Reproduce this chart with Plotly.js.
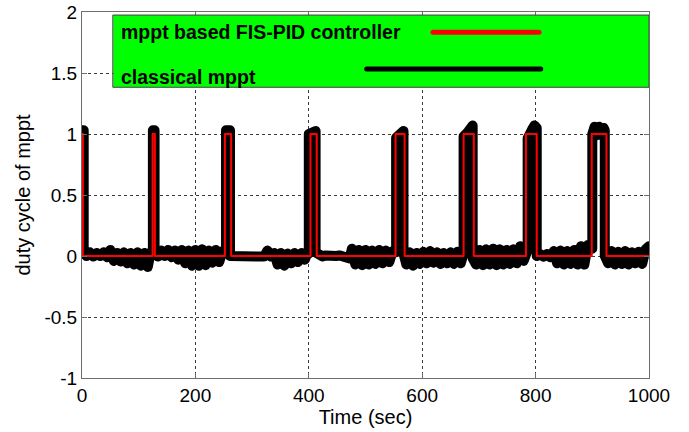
<!DOCTYPE html>
<html>
<head>
<meta charset="utf-8">
<script src="https://cdn.plot.ly/plotly-3.0.1.min.js"></script>
<style>
html,body{margin:0;padding:0;background:#fff;}
#chart{width:689px;height:432px;}
#chart path.js-line{stroke-linejoin:round !important;stroke-linecap:round !important;}
#chart .shapelayer path{stroke-linecap:round !important;}
</style>
</head>
<body>
<div id="chart"></div>
<script>
// FIS-PID controller duty cycle (step shape 'hv': switching times and levels)
const fisTime = [0, 0, 1.5, 124.5, 128.5, 252, 263, 403, 414, 553, 569, 673, 691, 783, 802, 899, 925, 1000];
const fisDuty = [0, 1, 0,   1,     0,     1,   0,   1,   0,   1,   0,   1,   0,   1,   0,   1,   0,   0];

// classical mppt duty cycle (noisy signal)
const classicalTime = [
  0, 3, 3,
  8, 14, 20, 26, 32, 38, 44, 50, 56, 62, 68, 74, 80, 86, 92, 98, 104, 110, 116, 121,
  125, 125, 128, 128,
  134, 140, 146, 152, 158, 164, 170, 176, 182, 188, 194, 200, 206, 212, 218, 224, 230, 236, 242, 248,
  254, 254, 261, 261,
  267, 273, 279, 285, 291, 297, 303, 309, 315, 321, 327, 333, 339, 345, 351, 357, 363, 369, 375, 381, 387, 393, 398,
  400, 400, 406, 412, 412,
  418, 424, 430, 436, 442, 448, 454, 460, 466, 472, 476, 482, 488, 494, 500, 506, 512, 518, 524, 530, 536, 542, 548,
  554, 554, 560, 567, 567,
  572, 578, 584, 590, 596, 602, 608, 614, 620, 626, 632, 638, 644, 650, 656, 662, 668,
  673, 673, 681, 689, 689,
  695, 701, 707, 713, 719, 725, 731, 737, 743, 749, 755, 761, 767, 773, 779,
  786, 786, 794, 798, 802, 802,
  808, 814, 820, 826, 832, 838, 844, 850, 856, 862, 868, 874, 880, 886, 892,
  900, 900, 904, 908, 912, 916, 920, 922, 922,
  928, 934, 940, 946, 952, 958, 964, 970, 976, 982, 988, 994, 1000
];
const classicalDuty = [
  1.03, 1.03, 0.025,
  0.0, 0.03, -0.005, 0.025, 0.0, 0.03, -0.01, 0.05, -0.04, 0.025, -0.045, 0.03, -0.06, 0.025, -0.07, 0.03, -0.08, 0.025, -0.09, 0.03,
  0.02, 1.03, 1.03, 0.03,
  -0.005, 0.045, 0.0, 0.05, -0.01, 0.045, -0.03, 0.05, -0.06, 0.045, -0.08, 0.05, -0.08, 0.055, -0.075, 0.045, -0.055, 0.05, -0.05, 0.04,
  0.03, 1.03, 1.03, 0.0,
  0.0, -0.005, 0.0, -0.005, 0.0, -0.008, 0.0, -0.005, 0.01, -0.005, 0.045, -0.005, 0.025, -0.07, 0.025, -0.08, 0.02, -0.06, 0.025, -0.05, 0.025, -0.03, 0.03,
  0.02, 1.0, 1.02, 1.025, 0.03,
  0.005, -0.003, 0.005, -0.003, 0.005, 0.0, 0.005, -0.003, 0.005, -0.02, 0.06, -0.07, 0.05, -0.075, 0.05, -0.07, 0.045, -0.065, 0.05, -0.06, 0.045, -0.05, 0.04,
  0.03, 0.97, 1.0, 1.025, 0.02,
  -0.07, 0.03, -0.08, 0.025, -0.065, 0.035, -0.06, 0.04, -0.055, 0.03, -0.065, 0.025, -0.06, 0.03, -0.065, 0.035, -0.06,
  0.02, 0.98, 1.02, 1.07, -0.02,
  -0.07, 0.05, -0.075, 0.055, -0.07, 0.06, -0.075, 0.055, -0.07, 0.05, -0.065, 0.055, -0.06, 0.08, -0.04,
  0.05, 0.965, 1.04, 1.07, 1.05, 0.0,
  0.015, -0.005, 0.015, -0.01, 0.04, -0.06, 0.045, -0.07, 0.04, -0.065, 0.05, -0.07, 0.08, -0.07, 0.09,
  0.06, 1.0, 1.06, 0.99, 1.06, 0.99, 1.05, 1.03, 0.0,
  -0.06, 0.04, -0.07, 0.035, -0.065, 0.04, -0.07, 0.03, -0.06, 0.035, -0.065, 0.055, 0.08
];

const xTicks = [0, 200, 400, 600, 800, 1000];
const xTickText = ['0', '200', '400', '600', '800', '1000'];
const yTicks = [-1, -0.5, 0, 0.5, 1, 1.5, 2];
const yTickText = ['-1', '-0.5', '0', '0.5', '1', '1.5', '2'];
const seriesNames = ['mppt based FIS-PID controller', 'classical mppt'];

const FONT = 'Liberation Sans, Arial, sans-serif';

const traces = [
  {x: classicalTime, y: classicalDuty, type: 'scatter', mode: 'lines', name: seriesNames[1],
   line: {color: '#000000', width: 10}, hoverinfo: 'skip'},
  {x: fisTime, y: fisDuty, type: 'scatter', mode: 'lines', name: seriesNames[0],
   line: {color: '#ff0000', width: 2, shape: 'hv'}, hoverinfo: 'skip'}
];

const axisCommon = {
  showline: true, linecolor: '#6e6e6e', linewidth: 1, mirror: 'ticks',
  ticks: 'inside', ticklen: 5, tickcolor: '#6e6e6e',
  showgrid: true, gridcolor: '#3a3a3a', gridwidth: 1, griddash: '3px,3px',
  zeroline: false, tickfont: {family: FONT, size: 19, color: '#000'}
};

const layout = {
  width: 689, height: 432,
  margin: {l: 82, r: 40, t: 12, b: 54},
  paper_bgcolor: '#ffffff', plot_bgcolor: '#ffffff',
  showlegend: false,
  xaxis: Object.assign({}, axisCommon, {
    range: [0, 1000], tickmode: 'array', tickvals: xTicks, ticktext: xTickText,
    title: {text: 'Time (sec)', font: {family: FONT, size: 20, color: '#000'}, standoff: 4}
  }),
  yaxis: Object.assign({}, axisCommon, {
    range: [-1, 2], tickmode: 'array', tickvals: yTicks, ticktext: yTickText,
    title: {text: 'duty cycle of mppt', font: {family: FONT, size: 20, color: '#000'}, standoff: 8}
  }),
  shapes: [
    {type: 'rect', xref: 'x', yref: 'y', x0: 55, x1: 1000, y0: 1.383, y1: 1.975,
     fillcolor: '#00ff00', line: {color: '#404040', width: 1}, layer: 'above'},
    {type: 'line', xref: 'x', yref: 'y', x0: 619, x1: 806, y0: 1.834, y1: 1.834,
     line: {color: '#ff0000', width: 5}, layer: 'above'},
    {type: 'line', xref: 'x', yref: 'y', x0: 502, x1: 809, y0: 1.533, y1: 1.533,
     line: {color: '#000000', width: 5}, layer: 'above'}
  ],
  annotations: [
    {xref: 'x', yref: 'y', x: 65, y: 1.835, xanchor: 'left', yanchor: 'middle', showarrow: false,
     text: '<b>' + seriesNames[0] + '</b>', font: {family: FONT, size: 19.5, color: '#000'}},
    {xref: 'x', yref: 'y', x: 65, y: 1.465, xanchor: 'left', yanchor: 'middle', showarrow: false,
     text: '<b>' + seriesNames[1] + '</b>', font: {family: FONT, size: 19.5, color: '#000'}}
  ]
};

Plotly.newPlot('chart', traces, layout, {displayModeBar: false, staticPlot: true});
</script>
</body>
</html>
